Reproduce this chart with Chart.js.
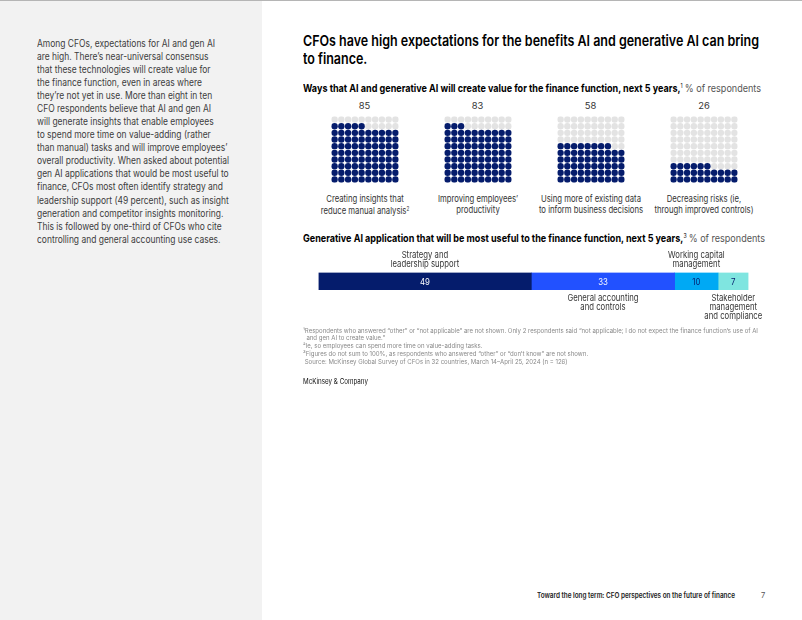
<!DOCTYPE html>
<html>
<head>
<meta charset="utf-8">
<script src="https://cdn.jsdelivr.net/npm/chart.js@4.4.1/dist/chart.umd.min.js"></script>
<style>
  html,body{margin:0;padding:0;background:#fff;}
  body{width:802px;height:620px;position:relative;overflow:hidden;font-family:"Inter","Liberation Sans",Arial,sans-serif;color:#000;}
  .abs{position:absolute;white-space:nowrap;}
  #side{position:absolute;left:0;top:0;width:262px;height:620px;background:#f2f2f2;}
  #topline{position:absolute;left:0;top:0;width:802px;height:1px;background:#b5b5b5;}
  #sidetext{left:37px;top:36.8px;font-size:9.8px;line-height:13.07px;color:#3c3c3c;}
  #title{left:303px;top:33px;font-size:14.8px;line-height:17.5px;font-weight:600;color:#000;}
  .sub{font-size:10.6px;font-weight:700;color:#000;}
  .sub span{font-weight:400;color:#555;}
  .sub sup{font-size:6px;font-weight:400;vertical-align:4px;}
  .num{font-size:9.4px;color:#333;text-align:center;width:100px;}
  .cat{font-size:9.2px;color:#333;text-align:center;width:160px;line-height:11px;}
  .cat sup{font-size:5.5px;vertical-align:3px;}
  canvas{position:absolute;}
  #foot{left:303px;top:326.5px;font-size:6.8px;line-height:7.8px;color:#8a8a8a;}
  #foot sup{font-size:4.5px;vertical-align:2px;}
  #mck{left:303px;top:377px;font-size:7.4px;color:#111;}
  #pagefoot{left:537px;top:591px;font-size:7.4px;font-weight:600;color:#222;}
  #pagenum{left:761px;top:591px;font-size:7.5px;color:#555;}
</style>
</head>
<body>
<div id="side"></div>
<div id="topline"></div>
<div id="sidetext" class="abs">Among CFOs, expectations for AI and gen AI<br>are high. There’s near-universal consensus<br>that these technologies will create value for<br>the finance function, even in areas where<br>they’re not yet in use. More than eight in ten<br>CFO respondents believe that AI and gen AI<br>will generate insights that enable employees<br>to spend more time on value-adding (rather<br>than manual) tasks and will improve employees’<br>overall productivity. When asked about potential<br>gen AI applications that would be most useful to<br>finance, CFOs most often identify strategy and<br>leadership support (49 percent), such as insight<br>generation and competitor insights monitoring.<br>This is followed by one-third of CFOs who cite<br>controlling and general accounting use cases.</div>

<div id="title" class="abs">CFOs have high expectations for the benefits AI and generative AI can bring<br>to finance.</div>
<div id="sub1" class="abs sub" style="left:303px;top:82px;">Ways that AI and generative AI will create value for the finance function, next 5 years,<sup>1</sup> <span>% of respondents</span></div>

<div id="waffles"></div>

<div id="sub2" class="abs sub" style="left:303px;top:232px;">Generative AI application that will be most useful to the finance function, next 5 years,<sup>3</sup> <span>% of respondents</span></div>
<canvas id="bar" width="480" height="100" style="left:300px;top:240px;width:480px;height:100px;"></canvas>

<div id="foot" class="abs">¹Respondents who answered “other” or “not applicable” are not shown. Only 2 respondents said “not applicable; I do not expect the finance function’s use of AI<br>&nbsp;&nbsp;and gen AI to create value.”<br>²Ie, so employees can spend more time on value-adding tasks.<br>³Figures do not sum to 100%, as respondents who answered “other” or “don’t know” are not shown.<br>&nbsp;Source: McKinsey Global Survey of CFOs in 32 countries, March 14–April 25, 2024 (n = 126)</div>
<div id="mck" class="abs">McKinsey &amp; Company</div>
<div id="pagefoot" class="abs">Toward the long term: CFO perspectives on the future of finance</div>
<div id="pagenum" class="abs">7</div>

<script>
// ---- Data ----
const waffleCategories = [
  ["Creating insights that", "reduce manual analysis|2"],
  ["Improving employees’", "productivity"],
  ["Using more of existing data", "to inform business decisions"],
  ["Decreasing risks (ie,", "through improved controls)"]
];
const waffleValues = [85, 83, 58, 26];

const barCategories = [
  ["Strategy and", "leadership support"],
  ["General accounting", "and controls"],
  ["Working capital", "management"],
  ["Stakeholder", "management", "and compliance"]
];
const barValues = [49, 33, 10, 7];

// ---- Styles ----
const NAVY = "#051c6c";
const EMPTY = "#e3e3e3";
const barColors = ["#051c6c", "#2251ff", "#00a9f4", "#7fe5e0"];
const barTextColors = ["#ffffff", "#ffffff", "#051c6c", "#051c6c"];
const barLabelSide = ["top", "bottom", "top", "bottom"];
const waffleLeft = [327.5, 440.5, 553.5, 667];
const GRID = 10;
const SX = 0.84; // horizontal compression for small label text

function fit(id, w) {
  const el = document.getElementById(id);
  const r = el.getBoundingClientRect().width;
  el.style.transformOrigin = "0 0";
  el.style.transform = "scaleX(" + (w / r) + ")";
}

// ---- Waffles ----
const wrap = document.getElementById("waffles");
waffleValues.forEach((v, k) => {
  const cx = waffleLeft[k] + 37;
  const num = document.createElement("div");
  num.className = "abs num";
  num.style.left = (cx - 50) + "px";
  num.style.top = "99.5px";
  num.textContent = v;
  wrap.appendChild(num);

  const cat = document.createElement("div");
  cat.className = "abs cat";
  cat.style.left = (cx - 80) + "px";
  cat.style.top = "193px";
  cat.style.transform = "scaleX(" + SX + ")";
  cat.innerHTML = waffleCategories[k].map(s => {
    const p = s.split("|");
    return p[0] + (p[1] ? "<sup>" + p[1] + "</sup>" : "");
  }).join("<br>");
  wrap.appendChild(cat);

  const c = document.createElement("canvas");
  c.width = 74; c.height = 73;
  c.style.left = waffleLeft[k] + "px";
  c.style.top = "113px";
  c.style.width = "74px"; c.style.height = "73px";
  wrap.appendChild(c);

  const filled = [], empty = [];
  for (let i = 0; i < GRID * GRID; i++) {
    const pt = { x: i % GRID, y: Math.floor(i / GRID) };
    (i < v ? filled : empty).push(pt);
  }
  new Chart(c, {
    type: "scatter",
    data: {
      datasets: [
        { data: filled, backgroundColor: NAVY, borderWidth: 0, pointRadius: 3.2, pointHoverRadius: 3.2 },
        { data: empty, backgroundColor: EMPTY, borderWidth: 0, pointRadius: 3.2, pointHoverRadius: 3.2 }
      ]
    },
    options: {
      responsive: false, animation: false, events: [],
      layout: { padding: 0 },
      plugins: { legend: { display: false }, tooltip: { enabled: false } },
      scales: {
        x: { display: false, min: -0.5, max: GRID - 0.5 },
        y: { display: false, min: -0.5, max: GRID - 0.5 }
      }
    }
  });
});

// ---- Stacked bar ----
const barLabels = {
  id: "barLabels",
  afterDatasetsDraw(chart) {
    const ctx = chart.ctx;
    chart.data.datasets.forEach((ds, i) => {
      const el = chart.getDatasetMeta(i).data[0];
      const mid = (el.x + el.base) / 2;
      const top = el.y - el.height / 2, bot = el.y + el.height / 2;
      const draw = (s, y) => {
        ctx.save();
        ctx.translate(mid, y);
        ctx.scale(SX, 1);
        ctx.fillText(s, 0, 0);
        ctx.restore();
      };
      ctx.textAlign = "center";
      ctx.font = "9.4px Inter, 'Liberation Sans', Arial, sans-serif";
      ctx.fillStyle = barTextColors[i];
      ctx.textBaseline = "middle";
      draw(String(ds.data[0]), el.y + 0.5);
      ctx.font = "9.2px Inter, 'Liberation Sans', Arial, sans-serif";
      ctx.fillStyle = "#333";
      ctx.textBaseline = "alphabetic";
      const lines = barCategories[i];
      const lh = 9;
      if (barLabelSide[i] === "top") {
        lines.forEach((s, j) => draw(s, top - 6 - (lines.length - 1 - j) * lh));
      } else {
        lines.forEach((s, j) => draw(s, bot + 11 + j * lh));
      }
    });
  }
};

const total = barValues.reduce((a, b) => a + b, 0);
new Chart(document.getElementById("bar"), {
  type: "bar",
  data: {
    labels: [""],
    datasets: barValues.map((v, i) => ({
      data: [v],
      backgroundColor: barColors[i],
      borderWidth: 0,
      barPercentage: 1,
      categoryPercentage: 1
    }))
  },
  options: {
    indexAxis: "y",
    responsive: false, animation: false, events: [],
    layout: { padding: { left: 18.5, right: 31.5, top: 32.5, bottom: 50 } },
    plugins: { legend: { display: false }, tooltip: { enabled: false } },
    scales: {
      x: { stacked: true, display: false, min: 0, max: total },
      y: { stacked: true, display: false }
    }
  },
  plugins: [barLabels]
});

// ---- fit text widths to the reference ----
fit("sidetext", 192);
fit("title", 456);
fit("sub1", 458);
fit("sub2", 462);
fit("foot", 455);
fit("mck", 65);
fit("pagefoot", 198);
</script>
</body>
</html>
